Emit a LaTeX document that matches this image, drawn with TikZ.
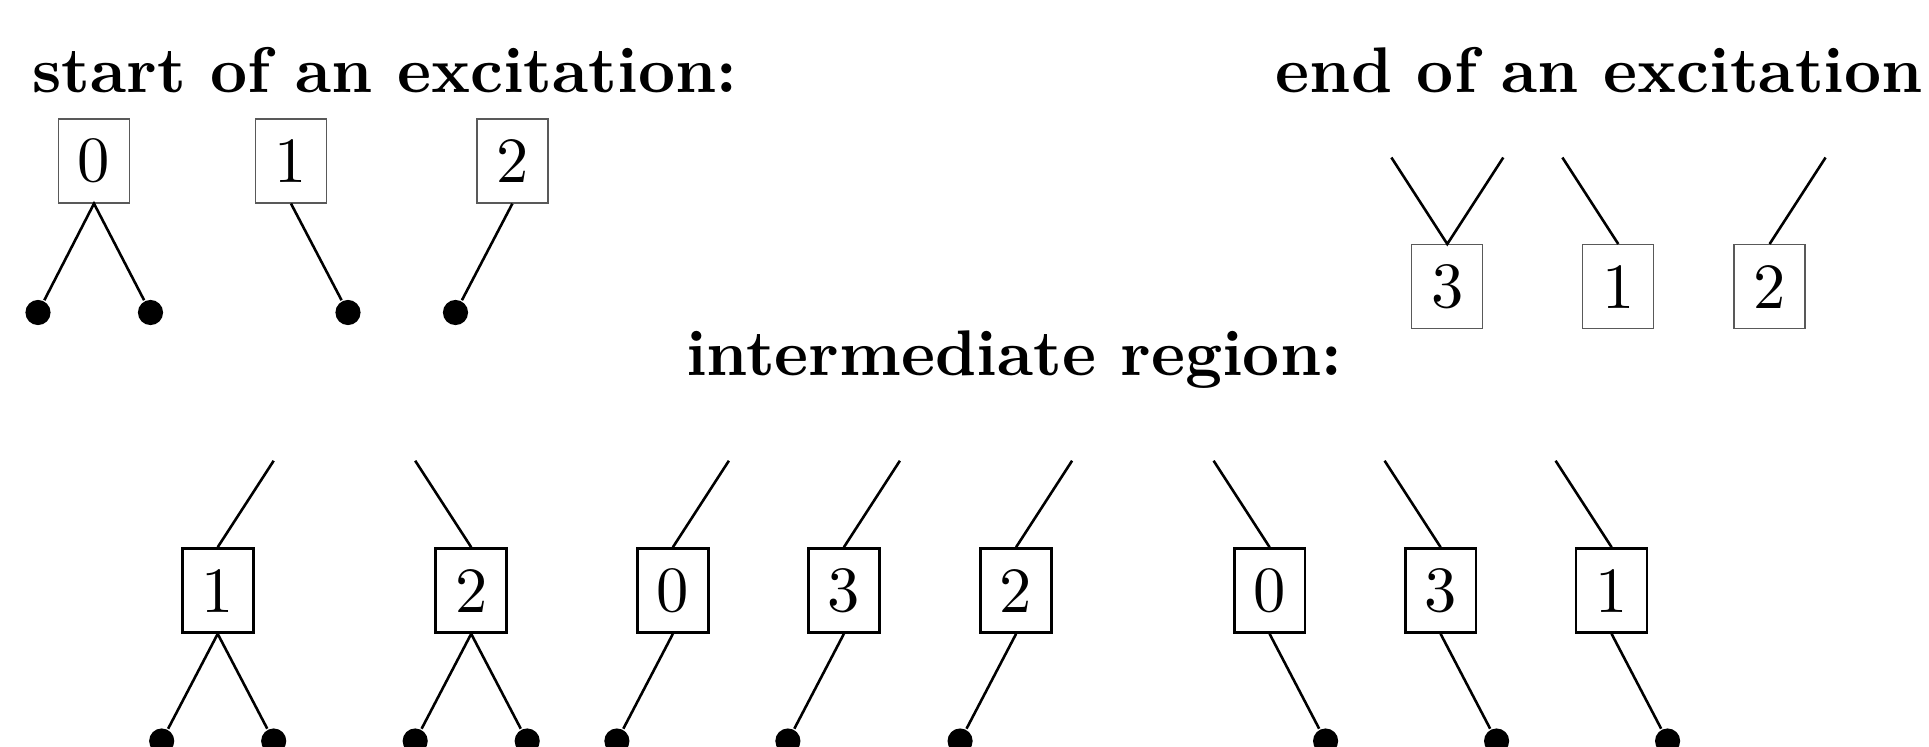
\documentclass[tikz,border=0pt]{standalone}
\begin{document}
\begin{tikzpicture}[x=0.155pt, y=-0.155pt,
  numbox/.style={draw, minimum width=11pt, minimum height=13pt, inner sep=0pt, font=\fontsize{10}{12}\selectfont},
  thinbox/.style={numbox, draw=black!65, line width=0.2pt},
  thickbox/.style={numbox, line width=0.43pt},
  leg/.style={line width=0.4pt},
  dot/.style={circle, fill, inner sep=0pt, minimum size=3.9pt},
  heading/.style={font=\fontsize{10}{12}\selectfont\bfseries, anchor=base west, inner sep=0pt}]
\useasboundingbox (0,0) rectangle (1929,746);

% headings
\node[heading] (hstart) at (31,92) {start of an excitation:};
\node[heading] (hend) at (1274.5,92) {end of an excitation};
\node[heading] (hmid) at (685,375) {intermediate region:};

% start of an excitation
\node[thinbox] (s0) at (94,161) {0};
\node[thinbox] (s1) at (291,161) {1};
\node[thinbox] (s2) at (512.4,161) {2};
\node[dot] (s0a) at (38,312.5) {};
\node[dot] (s0b) at (150.5,312.5) {};
\node[dot] (s1a) at (348,312.5) {};
\node[dot] (s2a) at (455.5,312.5) {};
\draw[leg] (s0a) -- (s0.south) -- (s0b);
\draw[leg] (s1.south) -- (s1a);
\draw[leg] (s2.south) -- (s2a);

% end of an excitation
\node[thinbox] (e3) at (1447.3,286.6) {3};
\node[thinbox] (e1) at (1618.3,286.6) {1};
\node[thinbox] (e2) at (1769.6,286.6) {2};
\coordinate (e3a) at (1391.4,157.5);
\coordinate (e3b) at (1503.3,157.5);
\coordinate (e1a) at (1562.4,157.5);
\coordinate (e2a) at (1825.6,157.5);
\draw[leg] (e3a) -- (e3.north) -- (e3b);
\draw[leg] (e1.north) -- (e1a);
\draw[leg] (e2.north) -- (e2a);

% intermediate region
\node[thickbox] (m1) at (217.7,590.5) {1};
\node[thickbox] (m2) at (471.2,590.5) {2};
\node[thickbox] (m3) at (672.9,590.5) {0};
\node[thickbox] (m4) at (843.9,590.5) {3};
\node[thickbox] (m5) at (1016.1,590.5) {2};
\node[thickbox] (m6) at (1269.6,590.5) {0};
\node[thickbox] (m7) at (1440.6,590.5) {3};
\node[thickbox] (m8) at (1611.6,590.5) {1};

\coordinate (m1t) at (273.7,460.7);
\coordinate (m2t) at (415.2,460.7);
\coordinate (m3t) at (728.9,460.7);
\coordinate (m4t) at (899.9,460.7);
\coordinate (m5t) at (1072.1,460.7);
\coordinate (m6t) at (1213.6,460.7);
\coordinate (m7t) at (1384.6,460.7);
\coordinate (m8t) at (1555.6,460.7);

\node[dot] (m1a) at (161.7,741) {};
\node[dot] (m1b) at (273.7,741) {};
\node[dot] (m2a) at (415.2,741) {};
\node[dot] (m2b) at (527.2,741) {};
\node[dot] (m3a) at (616.9,741) {};
\node[dot] (m4a) at (787.9,741) {};
\node[dot] (m5a) at (960.1,741) {};
\node[dot] (m6a) at (1325.6,741) {};
\node[dot] (m7a) at (1496.6,741) {};
\node[dot] (m8a) at (1667.6,741) {};

\draw[leg] (m1.north) -- (m1t);
\draw[leg] (m1a) -- (m1.south) -- (m1b);
\draw[leg] (m2.north) -- (m2t);
\draw[leg] (m2a) -- (m2.south) -- (m2b);
\draw[leg] (m3.north) -- (m3t);
\draw[leg] (m3.south) -- (m3a);
\draw[leg] (m4.north) -- (m4t);
\draw[leg] (m4.south) -- (m4a);
\draw[leg] (m5.north) -- (m5t);
\draw[leg] (m5.south) -- (m5a);
\draw[leg] (m6.north) -- (m6t);
\draw[leg] (m6.south) -- (m6a);
\draw[leg] (m7.north) -- (m7t);
\draw[leg] (m7.south) -- (m7a);
\draw[leg] (m8.north) -- (m8t);
\draw[leg] (m8.south) -- (m8a);
\end{tikzpicture}
\end{document}
